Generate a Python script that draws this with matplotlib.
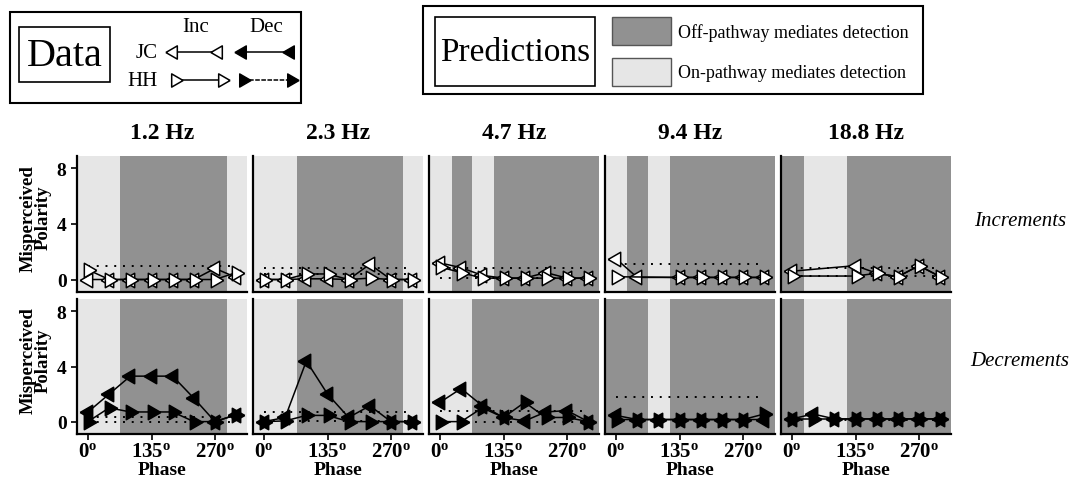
import matplotlib
matplotlib.use('Agg')
import matplotlib.pyplot as plt
import numpy as np
from matplotlib.patches import Rectangle

plt.rcParams['font.family'] = ['Liberation Serif', 'DejaVu Serif']
plt.rcParams['mathtext.fontset'] = 'custom'
plt.rcParams['mathtext.rm'] = 'Liberation Serif'
plt.rcParams['mathtext.bf'] = 'Liberation Serif:bold'

nan = np.nan

# Data
phase = [0, 45, 90, 135, 180, 225, 270, 315]
freqs = ['1.2 Hz', '2.3 Hz', '4.7 Hz', '9.4 Hz', '18.8 Hz']

jc_inc = [
    [0, 0, 0, 0, 0, 0, 0.8, 0.15],
    [0, 0, 0.05, 0.05, 0, 1.1, 0, 0],
    [1.2, 0.85, 0.3, 0.1, 0.1, 0.5, 0.1, 0.1],
    [1.5, 0.15, nan, 0.15, 0.15, 0.15, 0.15, 0.15],
    [0.6, nan, nan, 1.0, 0.45, 0.2, 1.0, 0.2],
]
hh_inc = [
    [0.7, 0, 0, 0, 0, 0, 0, 0.5],
    [0, 0, 0.4, 0.4, 0, 0.1, 0, 0],
    [0.9, 0.5, 0.1, 0.1, 0.1, 0.1, 0.1, 0.1],
    [0.2, nan, nan, 0.15, 0.15, 0.15, 0.15, 0.15],
    [0.25, nan, nan, 0.25, 0.45, 0.2, 1.0, 0.2],
]
jc_dec = [
    [0.7, 2.0, 3.3, 3.3, 3.3, 1.7, 0, 0.5],
    [0, 0.3, 4.4, 2.0, 0.3, 1.15, 0, 0],
    [1.4, 2.4, 1.15, 0.3, 0.05, 0.7, 0.8, 0],
    [0.45, 0.15, 0.15, 0.15, 0.15, 0.15, 0.15, 0.15],
    [0.2, 0.55, 0.2, 0.2, 0.2, 0.2, 0.2, 0.2],
]
hh_dec = [
    [0, 1.0, 0.7, 0.7, 0.7, 0, 0, 0.5],
    [0, 0.05, 0.45, 0.45, 0, 0, 0, 0],
    [0, 0, 1.0, 0.3, 1.4, 0.3, 0.3, 0],
    [0.15, 0.15, 0.15, 0.15, 0.15, 0.15, 0.15, 0.55],
    [0.2, 0.2, 0.2, 0.2, 0.2, 0.2, 0.2, 0.2],
]

# dotted reference levels
chance_inc_jc = [1.0, 0.8, 0.8, 1.15, 0.8]
chance_inc_hh = [nan, 0.4, 0.1, nan, 0.25]
chance_dec_jc = [0.35, 0.7, 0.75, 1.8, nan]
chance_dec_hh = [0.0, 0.05, 0.0, nan, 0.1]

# phase ranges where off-pathway predicted (dark)
off_inc = [[(68, 295)], [(70, 296)], [(25, 67), (115, 360)],
           [(23, 67), (115, 360)], [(-40, 25), (117, 360)]]
off_dec = [[(68, 295)], [(70, 296)], [(69, 360)],
           [(-40, 69), (115, 360)], [(-40, 25), (117, 360)]]

dark = '#919191'
light = '#e6e6e6'

# equilateral triangles centred on their centroid -> overlap gives a star
tri_left = [(-1, 0), (0.5, 0.866), (0.5, -0.866), (-1, 0)]
tri_right = [(1, 0), (-0.5, 0.866), (-0.5, -0.866), (1, 0)]

W, H = 1082, 485
fig = plt.figure(figsize=(W / 100, H / 100), dpi=100)

lefts = [77, 253, 429, 605, 781]
rows = [(157, 293), (300, 435)]


def add_ax(x0, y0, x1, y1):
    return fig.add_axes([x0 / W, 1 - y1 / H, (x1 - x0) / W, (y1 - y0) / H])


for c in range(5):
    for r in range(2):
        top, bot = rows[r]
        ax = add_ax(lefts[c], top, lefts[c] + 170, bot)
        ax.set_facecolor(light)
        spans = off_inc[c] if r == 0 else off_dec[c]
        for a, b in spans:
            ax.axvspan(a, b, color=dark, lw=0, zorder=0)
        if r == 0:
            jc, hh = jc_inc[c], hh_inc[c]
            cj, ch = chance_inc_jc[c], chance_inc_hh[c]
            fc = 'white'
        else:
            jc, hh = jc_dec[c], hh_dec[c]
            cj, ch = chance_dec_jc[c], chance_dec_hh[c]
            fc = 'black'
        for lev in (cj, ch):
            if not np.isnan(lev):
                ax.plot([0, 305], [lev, lev], color='black', lw=1.4,
                        ls=(0, (1, 3.5)), zorder=1)
        for y, m in ((jc, tri_left), (hh, tri_right)):
            y = np.array(y, dtype=float)
            ok = ~np.isnan(y)
            ax.plot(np.array(phase)[ok], y[ok], color='black', lw=1.1,
                    marker=m, ms=12, mfc=fc, mec='black', mew=1.1, zorder=3)
        ax.set_xlim(-23.4, 338)
        ax.set_ylim(-0.9, 8.9)
        for s in ('top', 'right'):
            ax.spines[s].set_visible(False)
        for s in ('left', 'bottom'):
            ax.spines[s].set_linewidth(1.6)
        ax.set_xticks([0, 135, 270])
        ax.set_yticks([0, 4, 8])
        ax.tick_params(length=4, width=1.2, direction='out')
        if c == 0:
            ax.set_yticklabels(['0', '4', '8'], fontsize=14, fontweight='bold')
            ax.set_ylabel('Misperceived\nPolarity', fontsize=13.5,
                          fontweight='bold', linespacing=0.85)
            ax.yaxis.set_label_coords(-0.15, 0.55)
        else:
            ax.tick_params(axis='y', left=False, labelleft=False)
        if r == 1:
            ax.set_xticklabels([r'$\mathbf{0^o}$', r'$\mathbf{135^o}$',
                                r'$\mathbf{270^o}$'], fontsize=15)
            ax.tick_params(axis='x', pad=2)
            ax.set_xlabel('Phase', fontsize=14, fontweight='bold', labelpad=0)
        else:
            ax.tick_params(axis='x', bottom=False, labelbottom=False)
            ax.text(0.5, 1.175, freqs[c], transform=ax.transAxes,
                    ha='center', va='center', fontsize=17, fontweight='bold')

# Overlay for legends and row labels
ov = fig.add_axes([0, 0, 1, 1])
ov.set_xlim(0, W)
ov.set_ylim(H, 0)
ov.axis('off')

ov.text(1020, 222, 'Increments', fontsize=15, style='italic',
        ha='center', va='center')
ov.text(1020, 362, 'Decrements', fontsize=15, style='italic',
        ha='center', va='center')

# Data legend box
ov.add_patch(Rectangle((10, 13), 291, 91, fill=False, lw=1.5, ec='black'))
ov.add_patch(Rectangle((19, 28), 91, 55, fill=False, lw=1.2, ec='black'))
ov.text(64.5, 56, 'Data', fontsize=29, ha='center', va='center')
ov.text(196, 28, 'Inc', fontsize=15, ha='center', va='center')
ov.text(266, 28, 'Dec', fontsize=15, ha='center', va='center')
ov.text(158, 54, 'JC', fontsize=15, ha='right', va='center')
ov.text(158, 81, 'HH', fontsize=15, ha='right', va='center')
ov.plot([173, 218], [53, 53], color='black', lw=1.1, marker=tri_left, ms=11,
        mfc='white', mec='black', mew=1.1)
ov.plot([242, 290], [53, 53], color='black', lw=1.1, marker=tri_left, ms=11,
        mfc='black', mec='black')
ov.plot([175, 222], [81, 81], color='black', lw=1.1, marker=tri_right, ms=11,
        mfc='white', mec='black', mew=1.1)
ov.plot([243, 291], [81, 81], color='black', lw=1.1, ls=(0, (3, 1)),
        marker=tri_right, ms=11, mfc='black', mec='black')

# Predictions legend box
ov.add_patch(Rectangle((423, 7), 500, 88, fill=False, lw=1.5, ec='black'))
ov.add_patch(Rectangle((435, 18), 160, 69, fill=False, lw=1.2, ec='black'))
ov.text(515, 53, 'Predictions', fontsize=24, ha='center', va='center')
ov.add_patch(Rectangle((612, 18), 59, 28, fc=dark, ec='#555555', lw=1))
ov.add_patch(Rectangle((612, 59), 59, 28, fc=light, ec='#555555', lw=1))
ov.text(678, 33, 'Off-pathway mediates detection', fontsize=13,
        ha='left', va='center')
ov.text(678, 73, 'On-pathway mediates detection', fontsize=13,
        ha='left', va='center')

fig.savefig('out.png', dpi=100)
